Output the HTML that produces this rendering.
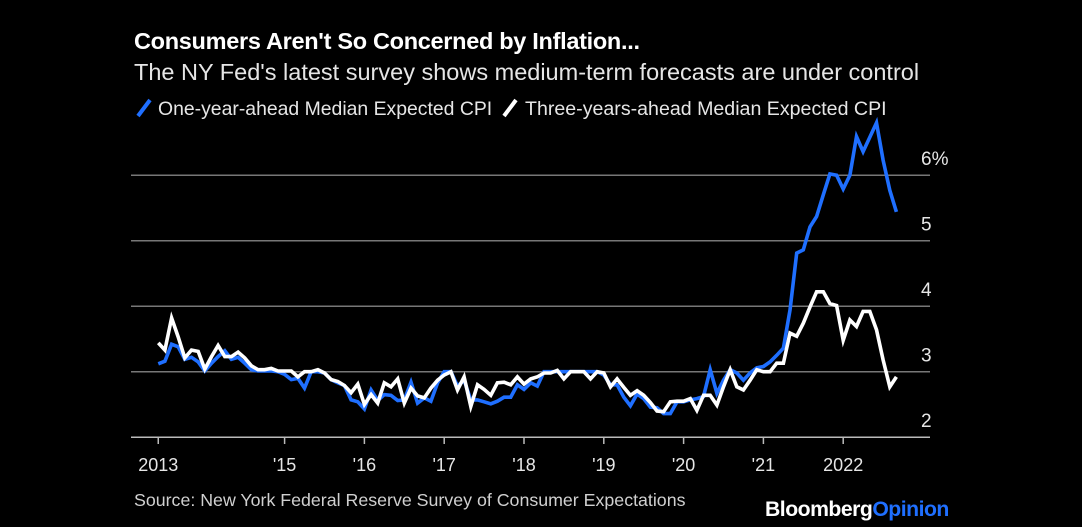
<!DOCTYPE html>
<html><head><meta charset="utf-8"><style>
body{margin:0;background:#000;width:1082px;height:527px;overflow:hidden;font-family:"Liberation Sans",sans-serif;color:#fff}
svg{position:absolute;left:0;top:0}
</style></head><body>
<svg width="1082" height="527">
<text x="134" y="49" font-size="23.5" font-weight="bold" fill="#fff" letter-spacing="-0.3">Consumers Aren't So Concerned by Inflation...</text>
<text x="134" y="80" font-size="23.5" fill="#e6e6e6">The NY Fed's latest survey shows medium-term forecasts are under control</text>
<g>
<line x1="138" y1="116" x2="150" y2="100" stroke="#1f6fff" stroke-width="4"/>
<text x="158" y="115" font-size="19.4" fill="#e6e6e6">One-year-ahead Median Expected CPI</text>
<line x1="504" y1="116" x2="516" y2="100" stroke="#fff" stroke-width="4"/>
<text x="525" y="115" font-size="19.6" fill="#e6e6e6">Three-years-ahead Median Expected CPI</text>
</g>
<g id="grid"></g><g id="lines"></g>
<text x="134" y="506" font-size="17.8" fill="#d0d0d0">Source: New York Federal Reserve Survey of Consumer Expectations</text>
<text x="765" y="516" font-size="21.2" font-weight="bold" fill="#fff" letter-spacing="-0.5">Bloomberg<tspan fill="#1f6fff">Opinion</tspan></text>
</svg>
<script>
const yTicks=[2,3,4,5,6];
const yTickLabels=["2","3","4","5","6%"];
const xTickYears=[2013.4167,2015,2016,2017,2018,2019,2020,2021,2022];
const xTickLabels=["2013","'15","'16","'17","'18","'19","'20","'21","2022"];
const oneYear=[3.12,3.16,3.42,3.38,3.19,3.22,3.15,3.01,3.13,3.23,3.32,3.19,3.22,3.13,3.03,3.01,3.01,3.01,3.0,2.96,2.88,2.90,2.75,3.0,3.0,2.98,2.88,2.83,2.79,2.57,2.54,2.43,2.72,2.56,2.65,2.64,2.56,2.57,2.84,2.52,2.60,2.55,
2.83,3.0,3.0,2.78,2.87,2.57,2.57,2.54,2.51,2.55,2.61,2.61,2.80,2.73,2.83,2.78,3.0,3.0,3.0,3.0,3.0,3.0,3.0,3.0,3.0,2.95,2.80,2.80,2.61,2.48,2.66,2.59,2.46,2.45,2.36,2.36,2.54,2.54,2.57,2.59,
2.62,3.03,2.67,2.87,3.03,2.98,2.87,2.98,3.06,3.08,3.15,3.25,3.36,3.94,4.81,4.86,5.21,5.37,5.70,6.02,6.0,5.79,6.0,6.59,6.36,6.58,6.80,6.23,5.77,5.44];
const threeYear=[3.44,3.33,3.82,3.53,3.21,3.33,3.31,3.04,3.23,3.40,3.23,3.23,3.30,3.21,3.09,3.03,3.03,3.05,3.01,3.01,3.01,2.92,3.0,3.0,3.03,2.98,2.88,2.85,2.79,2.68,2.81,2.50,2.65,2.52,2.83,2.77,2.89,2.52,2.75,2.63,2.60,2.75,
2.87,2.95,3.0,2.72,2.92,2.47,2.80,2.73,2.64,2.83,2.84,2.80,2.92,2.81,2.89,2.92,2.98,2.98,3.02,2.89,3.0,3.0,3.0,2.89,3.0,2.98,2.77,2.89,2.76,2.64,2.71,2.64,2.53,2.40,2.39,2.54,2.55,2.55,2.59,2.41,
2.64,2.64,2.49,2.77,3.03,2.77,2.72,2.87,3.03,3.0,3.0,3.13,3.13,3.59,3.54,3.74,3.99,4.22,4.22,4.04,4.01,3.48,3.79,3.69,3.92,3.92,3.64,3.18,2.77,2.92];
const startYear=2013+5/12;
const NS="http://www.w3.org/2000/svg";
function y(v){return 371.7-(v-3)*65.5;}
function xYear(t){return 125+(t-2013)*79.8;}
function xIdx(i){return xYear(startYear+i/12);}
const grid=document.getElementById('grid'),lines=document.getElementById('lines');
yTicks.forEach((v,i)=>{
 const l=document.createElementNS(NS,'line');
 l.setAttribute('x1',131);l.setAttribute('x2',930);l.setAttribute('y1',y(v));l.setAttribute('y2',y(v));
 l.setAttribute('stroke',i===0?'#bbb':'#777');l.setAttribute('stroke-width',1.5);
 
 
 grid.appendChild(l);
 const t=document.createElementNS(NS,'text');
 t.setAttribute('x',921);t.setAttribute('y',y(v)-10);t.setAttribute('font-size','19');t.setAttribute('fill','#e6e6e6');
 t.textContent=yTickLabels[i];
 
 
 grid.appendChild(t);
});
xTickYears.forEach((yr,i)=>{
 const x=xYear(yr);
 const l=document.createElementNS(NS,'line');
 l.setAttribute('x1',x);l.setAttribute('x2',x);l.setAttribute('y1',437);l.setAttribute('y2',444);
 l.setAttribute('stroke','#bbb');l.setAttribute('stroke-width',1.5);
 
 
 grid.appendChild(l);
 const t=document.createElementNS(NS,'text');
 t.setAttribute('x',x);t.setAttribute('y',471);t.setAttribute('font-size','18');t.setAttribute('fill','#e6e6e6');t.setAttribute('text-anchor','middle');
 t.textContent=xTickLabels[i];
 
 
 grid.appendChild(t);
});
function draw(arr,color,name){
 const p=document.createElementNS(NS,'polyline');
 p.setAttribute('points',arr.map((v,i)=>xIdx(i).toFixed(1)+','+y(v).toFixed(1)).join(' '));
 p.setAttribute('fill','none');p.setAttribute('stroke',color);p.setAttribute('stroke-width','3.6');p.setAttribute('stroke-linejoin','miter');
 
 
 lines.appendChild(p);
}
draw(oneYear,'#1f6fff','one-year-line');
draw(threeYear,'#ffffff','three-year-line');
</script>
</body></html>
